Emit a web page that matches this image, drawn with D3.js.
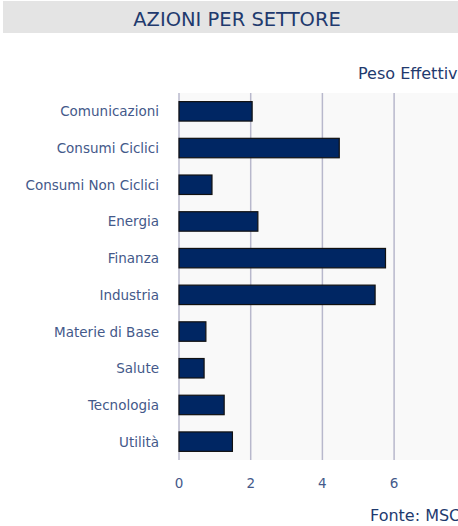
<!DOCTYPE html>
<html>
<head>
<meta charset="utf-8">
<script src="https://cdn.jsdelivr.net/npm/d3@7"></script>
<style>
  body { margin: 0; background: #ffffff; overflow: hidden; }
  svg { display: block; }
</style>
</head>
<body>
<svg id="chart" width="458" height="526"></svg>
<script>
// settori e pesi
const settori = ["Comunicazioni", "Consumi Ciclici", "Consumi Non Ciclici", "Energia", "Finanza",
  "Industria", "Materie di Base", "Salute", "Tecnologia", "Utilità"];
const pesi = [2.04, 4.47, 0.92, 2.2, 5.76, 5.47, 0.75, 0.7, 1.26, 1.49];
const tickValori = [0, 2, 4, 6];

const titolo = "AZIONI PER SETTORE";
const legenda = "Peso Effettivo";
const fonte = "Fonte: MSCI";

const textColor = "#1f3a6e";
const labelColor = "#44598a";

const svg = d3.select("#chart");

// barra del titolo
svg.append("rect")
  .attr("x", 3).attr("y", 1)
  .attr("width", 455).attr("height", 32)
  .attr("fill", "#e4e4e4");
svg.append("text")
  .attr("x", 237).attr("y", 19)
  .attr("text-anchor", "middle")
  .attr("dominant-baseline", "central")
  .attr("font-family", "DejaVu Sans")
  .attr("font-size", 19.5)
  .attr("fill", textColor)
  .text(titolo);

const margin = { left: 179, top: 93, bottom: 460 };

const x = d3.scaleLinear().domain([0, 2]).range([margin.left, margin.left + 71.7]);
const y = d3.scaleBand().domain(settori).range([margin.top, margin.bottom]).paddingInner(0.47).paddingOuter(0.235);

// sfondo area grafico
svg.append("rect")
  .attr("x", margin.left).attr("y", margin.top)
  .attr("width", 458 - margin.left).attr("height", margin.bottom - margin.top)
  .attr("fill", "#f9f9f9");

// griglia verticale
svg.append("g")
  .selectAll("line")
  .data(tickValori)
  .enter().append("line")
  .attr("x1", d => x(d)).attr("x2", d => x(d))
  .attr("y1", margin.top).attr("y2", margin.bottom)
  .attr("stroke", "#b8b8cc")
  .attr("stroke-width", 1.5);

// barre
svg.append("g")
  .selectAll("rect")
  .data(settori)
  .enter().append("rect")
  .attr("x", x(0))
  .attr("y", d => y(d))
  .attr("width", (d, i) => x(pesi[i]) - x(0))
  .attr("height", y.bandwidth())
  .attr("fill", "#002663")
  .attr("stroke", "#111111")
  .attr("stroke-width", 1.2);

// etichette categorie
svg.append("g")
  .selectAll("text")
  .data(settori)
  .enter().append("text")
  .attr("x", 159)
  .attr("y", d => y(d) + y.bandwidth() / 2)
  .attr("text-anchor", "end")
  .attr("dominant-baseline", "central")
  .attr("font-family", "DejaVu Sans")
  .attr("font-size", 13.5)
  .attr("fill", labelColor)
  .text(d => d);

// etichette asse x
svg.append("g")
  .selectAll("text")
  .data(tickValori)
  .enter().append("text")
  .attr("x", d => x(d))
  .attr("y", 483)
  .attr("text-anchor", "middle")
  .attr("dominant-baseline", "central")
  .attr("font-family", "DejaVu Sans")
  .attr("font-size", 13.5)
  .attr("fill", labelColor)
  .text(d => d);

// legenda e fonte
svg.append("text")
  .attr("x", 358).attr("y", 73)
  .attr("dominant-baseline", "central")
  .attr("font-family", "DejaVu Sans")
  .attr("font-size", 16)
  .attr("fill", textColor)
  .text(legenda);

svg.append("text")
  .attr("x", 370).attr("y", 515)
  .attr("dominant-baseline", "central")
  .attr("font-family", "DejaVu Sans")
  .attr("font-size", 16)
  .attr("fill", textColor)
  .text(fonte);
</script>
</body>
</html>
